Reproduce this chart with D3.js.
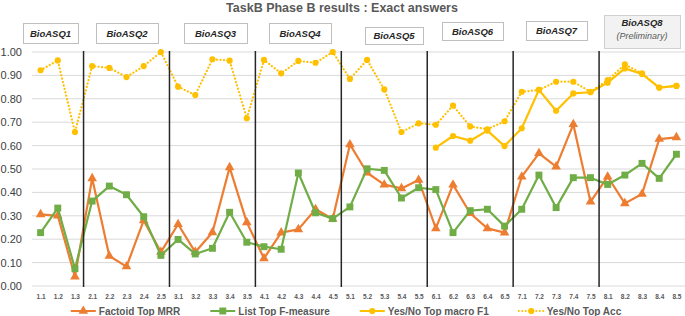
<!DOCTYPE html>
<html>
<head>
<meta charset="utf-8">
<script src="https://cdn.jsdelivr.net/npm/d3@7"></script>
<style>
  body { margin: 0; background: #ffffff; }
  svg { display: block; font-family: "Liberation Sans", Arial, sans-serif; }
</style>
</head>
<body>
<div id="chart"></div>
<script>
// Data
const categories = [
    "1.1","1.2","1.3",
    "2.1","2.2","2.3","2.4","2.5",
    "3.1","3.2","3.3","3.4","3.5",
    "4.1","4.2","4.3","4.4","4.5",
    "5.1","5.2","5.3","5.4","5.5",
    "6.1","6.2","6.3","6.4","6.5",
    "7.1","7.2","7.3","7.4","7.5",
    "8.1","8.2","8.3","8.4","8.5",
]
const factoidMRR = [
    0.306,0.300,0.040,
    0.460,0.128,0.083,0.280,0.145,
    0.264,0.145,0.229,0.507,0.272,
    0.118,0.228,0.242,0.328,0.286,
    0.605,0.484,0.433,0.417,0.453,
    0.246,0.433,0.311,0.246,0.228,
    0.467,0.567,0.510,0.691,0.360,
    0.467,0.353,0.393,0.628,0.635,
]
const listF = [
    0.228,0.333,0.074,
    0.363,0.427,0.390,0.296,0.131,
    0.199,0.137,0.161,0.315,0.187,
    0.168,0.157,0.483,0.313,0.288,
    0.338,0.501,0.494,0.376,0.420,
    0.412,0.228,0.322,0.328,0.256,
    0.328,0.474,0.335,0.463,0.463,
    0.434,0.474,0.524,0.460,0.563,
]
const yesNoF1 = [
    null,null,null,
    null,null,null,null,null,
    null,null,null,null,null,
    null,null,null,null,null,
    null,null,null,null,null,
    0.591,0.641,0.621,0.664,0.598,
    0.674,0.838,0.749,0.823,0.828,
    0.869,0.930,0.906,0.848,0.855,
]
const yesNoAcc = [
    0.922,0.964,0.658,
    0.940,0.932,0.893,0.940,1.000,
    0.852,0.816,0.969,0.963,0.717,
    0.966,0.909,0.962,0.954,1.000,
    0.885,0.966,0.840,0.658,0.695,
    0.689,0.771,0.682,0.670,0.704,
    0.830,0.838,0.873,0.873,0.830,
    0.880,0.947,0.909,0.848,0.855,
]
const yTicks = [0,0.1,0.2,0.3,0.4,0.5,0.6,0.7,0.8,0.9,1.0]
// last category of each BioASQ round -> separator after it
const roundEnds = ["1.3","2.5","3.5","4.5","5.5","6.5","7.5"]
const roundLabels = ["BioASQ1","BioASQ2","BioASQ3","BioASQ4","BioASQ5","BioASQ6","BioASQ7","BioASQ8"]

function drawChart() {
  // Dimensions
    let dimensions = {
        width: 685,
        height: 316,
        margin: { top: 52, right: 0, bottom: 30, left: 32 },
    }
    dimensions.boundedWidth = dimensions.width - dimensions.margin.left - dimensions.margin.right
    dimensions.boundedHeight = dimensions.height - dimensions.margin.top - dimensions.margin.bottom

  // Canvas
    const svg = d3.select("#chart")
        .append("svg")
            .attr("width", dimensions.width)
            .attr("height", dimensions.height)
    const bounds = svg.append("g")
        .attr("transform", `translate(${dimensions.margin.left},${dimensions.margin.top})`)

  // Scales
    const xScale = d3.scalePoint()
        .domain(categories)
        .range([0, dimensions.boundedWidth])
        .padding(0.5)
    const yScale = d3.scaleLinear()
        .domain([0, 1])
        .range([dimensions.boundedHeight, 0])

  // Gridlines
    bounds.append("g")
        .selectAll("line")
        .data(yTicks)
        .join("line")
            .attr("x1", 0)
            .attr("x2", dimensions.boundedWidth)
            .attr("y1", d => yScale(d))
            .attr("y2", d => yScale(d))
            .attr("stroke", "#d9d9d9")
            .attr("stroke-width", 1)

  // Axes
    const yAxis = bounds.append("g")
        .call(d3.axisLeft(yScale).tickValues(yTicks).tickFormat(d3.format(".2f")).tickSize(0).tickPadding(10))
    yAxis.select(".domain").remove()
    yAxis.selectAll("text")
        .attr("fill", "#404040")
        .style("font-size", "11px")

    const xAxis = bounds.append("g")
        .attr("transform", `translate(0,${dimensions.boundedHeight})`)
        .call(d3.axisBottom(xScale).tickSize(0).tickPadding(8))
    xAxis.select(".domain").remove()
    xAxis.selectAll("text")
        .attr("fill", "#595959")
        .attr("font-weight", "bold")
        .style("font-size", "6.5px")

  // Series
    const series = [
        { name: "Factoid Top MRR", values: factoidMRR, color: "#ed7d31", symbol: d3.symbolTriangle, size: 40, dash: null },
        { name: "List Top F-measure", values: listF, color: "#70ad47", symbol: d3.symbolSquare, size: 48, dash: null },
        { name: "Yes/No Top macro F1", values: yesNoF1, color: "#ffc000", symbol: d3.symbolCircle, size: 30, dash: null },
        { name: "Yes/No Top Acc", values: yesNoAcc, color: "#ffc000", symbol: d3.symbolCircle, size: 30, dash: "0.1 3.4" },
    ]

    const lineGenerator = d3.line()
        .defined(d => d.v != null)
        .x(d => xScale(d.c))
        .y(d => yScale(d.v))

    series.forEach(s => {
        const points = categories.map((c, i) => ({ c: c, v: s.values[i] }))
        const g = bounds.append("g")
        g.append("path")
            .attr("d", lineGenerator(points))
            .attr("fill", "none")
            .attr("stroke", s.color)
            .attr("stroke-width", 2.2)
            .attr("stroke-linecap", s.dash ? "round" : "butt")
            .attr("stroke-linejoin", "round")
            .attr("stroke-dasharray", s.dash)
        g.selectAll("path.marker")
            .data(points.filter(d => d.v != null))
            .join("path")
                .attr("class", "marker")
                .attr("d", d3.symbol().type(s.symbol).size(s.size))
                .attr("transform", d => `translate(${xScale(d.c)},${yScale(d.v)})`)
                .attr("fill", s.color)
    })

  // Round separators
    const step = xScale.step()
    bounds.append("g")
        .selectAll("line")
        .data(roundEnds)
        .join("line")
            .attr("x1", d => xScale(d) + step / 2)
            .attr("x2", d => xScale(d) + step / 2)
            .attr("y1", -1)
            .attr("y2", dimensions.boundedHeight + 1)
            .attr("stroke", "#262626")
            .attr("stroke-width", 1.5)

  // Round header boxes (absolute layout)
    const headerBoxes = [
        { x: 23, y: 23, w: 55, h: 20 },
        { x: 96, y: 23, w: 62, h: 20 },
        { x: 184, y: 23, w: 63, h: 20 },
        { x: 269, y: 23, w: 62, h: 20 },
        { x: 365, y: 27, w: 58, h: 17 },
        { x: 442, y: 22, w: 61, h: 18 },
        { x: 526, y: 21, w: 61, h: 19 },
        { x: 604, y: 15, w: 76, h: 33 },
    ]
    const headers = svg.append("g")
    roundLabels.forEach((label, i) => {
        const b = headerBoxes[i]
        const last = i == roundLabels.length - 1
        headers.append("rect")
            .attr("x", b.x + 0.5)
            .attr("y", b.y + 0.5)
            .attr("width", b.w)
            .attr("height", b.h)
            .attr("fill", last ? "#f2f2f2" : "#ffffff")
            .attr("stroke", last ? "#d0d0d0" : "#bfbfbf")
        headers.append("text")
            .attr("x", b.x + b.w / 2)
            .attr("y", last ? b.y + 11 : b.y + b.h / 2 + 3.5)
            .attr("text-anchor", "middle")
            .attr("font-weight", "bold")
            .attr("font-style", "italic")
            .attr("fill", "#262626")
            .style("font-size", "9.5px")
            .text(label)
        if (last) {
            headers.append("text")
                .attr("x", b.x + b.w / 2)
                .attr("y", b.y + 24)
                .attr("text-anchor", "middle")
                .attr("font-style", "italic")
                .attr("fill", "#595959")
                .style("font-size", "9px")
                .text("(Preliminary)")
        }
    })

  // Title
    svg.append("text")
        .attr("x", 342)
        .attr("y", 12)
        .attr("text-anchor", "middle")
        .attr("font-weight", "bold")
        .attr("fill", "#595959")
        .style("font-size", "12.5px")
        .text("TaskB Phase B results : Exact answers")

  // Legend
    const legend = svg.append("g")
        .attr("transform", "translate(0,311)")
    const items = series.map(s => {
        const g = legend.append("g")
        g.append("line")
            .attr("x1", 0).attr("x2", 25)
            .attr("stroke", s.color)
            .attr("stroke-width", 2)
            .attr("stroke-linecap", s.dash ? "round" : "butt")
            .attr("stroke-dasharray", s.dash)
        g.append("path")
            .attr("d", d3.symbol().type(s.symbol).size(s.size))
            .attr("transform", "translate(12.5,0)")
            .attr("fill", s.color)
        const t = g.append("text")
            .attr("x", 28)
            .attr("y", 3.5)
            .attr("font-weight", "bold")
            .attr("fill", "#595959")
            .style("font-size", "10px")
            .text(s.name)
        return { g: g, w: 28 + t.node().getComputedTextLength() }
    })
    const gap = 30
    const total = d3.sum(items, d => d.w) + gap * (items.length - 1)
    let lx = 346 - total / 2
    items.forEach(it => {
        it.g.attr("transform", `translate(${lx},0)`)
        lx += it.w + gap
    })
}

drawChart()
</script>
</body>
</html>
